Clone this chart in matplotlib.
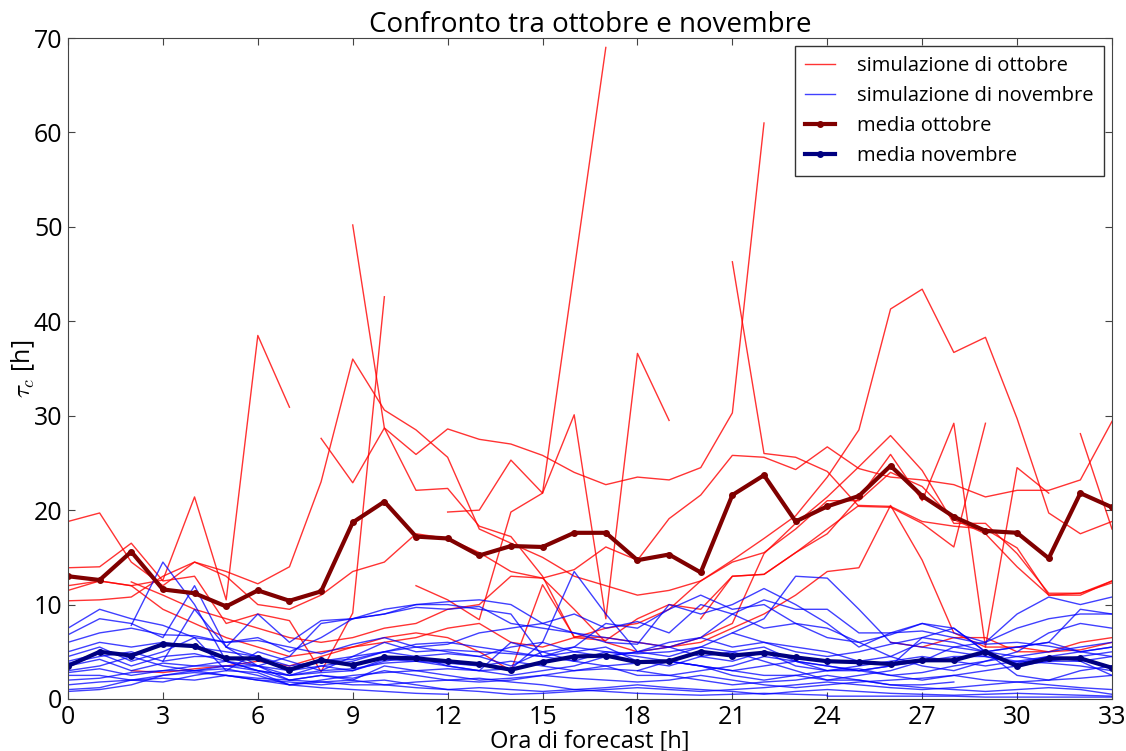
import numpy as np
import matplotlib
matplotlib.use("Agg")
import matplotlib.pyplot as plt

N = np.nan
hours = list(range(34))
xticks = list(range(0, 34, 3))

mean_oct = [13.0, 12.6, 15.6, 11.6, 11.2, 9.8, 11.5, 10.4, 11.4, 18.7, 20.9, 17.2, 17.0, 15.2,
            16.2, 16.1, 17.6, 17.6, 14.7, 15.3, 13.4, 21.6, 23.7, 18.8, 20.4, 21.5, 24.7, 21.5,
            19.3, 17.8, 17.6, 14.9, 21.8, 20.3]
mean_nov = [3.5, 5.0, 4.6, 5.8, 5.6, 4.3, 4.3, 3.1, 4.1, 3.6, 4.4, 4.3, 4.0, 3.7, 3.1, 3.9, 4.5,
            4.6, 3.9, 4.0, 5.0, 4.6, 4.9, 4.4, 4.0, 3.9, 3.7, 4.1, 4.1, 5.0, 3.5, 4.3, 4.3, 3.3]

oct_r1 = [11.5, 12.5, 12.0, 12.6, 21.4, 10.5, 38.5, 30.9] + [N] * 26
oct_r2 = [N] * 9 + [50.2, 28.7, 25.9, 28.6, 27.5, 27.0, 25.8, 24.0, 22.7, 23.5, 23.2, 24.5, 30.3, 61.0] + [N] * 11
oct_r3 = [13.9, 14.0, 16.5, 12.5, 13.0, 8.0, 9.0, 8.3, 2.9, 9.1, 42.6] + [N] * 23
oct_r4 = [N] * 8 + [27.6, 22.9, 28.7, 22.1, 22.3, 18.3, 17.2, 13.0, 6.5, 6.2, 8.5, 10.0, 9.5, 13.0,
                    13.2, 15.5, 18.0, 20.5, 20.4, 18.8, 18.3, 18.0, 16.0, 11.0, 11.2, 12.5]
oct_r5 = [10.4, 10.5, 10.8, 13.0, 14.5, 13.5, 12.2, 14.0, 23.0, 36.0, 30.6, 28.5, 25.6, 18.0, 16.5,
          15.0, 13.0, 12.0, 11.0, 11.5, 12.5, 14.5, 15.5, 18.0, 21.0, 21.0, 24.0, 22.5, 19.0, 17.5,
          14.0, 11.0, 11.0, 12.5]
oct_r6 = [N] * 12 + [19.8, 20.0, 25.3, 21.8, 30.1, 8.5, 36.6, 29.5] + [N] * 14
oct_r7 = [N] * 11 + [12.0, 10.5, 8.4, 19.8, 21.8, 45.4, 69.0] + [N] * 16
oct_r8 = [N] * 21 + [46.3, 26.0, 25.6, 24.1, 20.4, 20.3, 18.6, 16.1, 29.2] + [N] * 4
oct_r9 = [18.8, 19.7, 14.5, 12.0, 14.5, 13.0, 10.0, 9.5, 11.0, 13.5, 14.5, 17.5, 17.0, 15.5, 13.5,
          12.8, 13.7, 16.1, 14.7, 19.1, 21.6, 25.8, 25.6, 24.3, 26.7, 24.4, 23.5, 23.2, 22.7, 21.4,
          22.1, 22.1, 23.2, 29.4]
oct_r10 = [12.0, 12.5, 12.0, 9.5, 8.0, 6.5, 5.5, 4.5, 5.0, 5.5, 6.0, 6.5, 7.5, 8.0, 6.0, 5.5, 6.5,
           7.5, 8.0, 9.5, 12.5, 14.7, 17.0, 19.4, 23.5, 28.5, 41.3, 43.4, 36.7, 38.3, 29.7, 19.7,
           17.5, 18.8]
oct_r11 = [N] * 2 + [12.4, 11.0, 9.5, 8.5, 7.5, 6.5, 6.0, 6.5, 7.5, 8.0, 9.5, 10.0, 13.0, 12.8,
                     9.5, 6.0, 5.0, 5.5, 6.5, 8.0, 15.4, 18.6, 21.4, 24.6, 27.9, 24.2, 18.6, 18.6,
                     15.4, 11.2, 11.2, 12.3]
oct_r12 = [N] * 2 + [3.0, 2.8, 3.2, 3.5, 4.0, 3.5, 4.5, 5.5, 6.5, 7.0, 6.5, 5.0, 3.0, 12.1, 6.6,
                     6.5, 6.0, 5.5, 6.0, 7.5, 9.0, 11.0, 13.5, 13.9, 20.5, 14.7, 7.0, 5.5, 5.5,
                     5.0, 5.2, 6.0]
oct_r13 = [N] * 20 + [8.5, 13.0, 13.2, 15.5, 17.5, 21.3, 25.9, 21.0, 29.2, 5.5, 24.5, 21.8] + [N] * 2
oct_r14 = [N] * 26 + [6.0, 5.5, 6.5, 6.5, 5.0, 5.0, 6.0, 6.5]
oct_r15 = [N] * 31 + [N, 28.1, 18.0]

nov_b1 = [7.5, 9.5, 8.5, 7.8, 6.5, 6.0, 6.5, 5.0, 6.5, 8.5, 9.5, 10.0, 10.3, 10.5, 10.0, 8.0, 7.0,
          6.5, 6.0, 5.5, 6.5, 9.0, 10.5, 9.5, 9.5, 7.0, 7.0, 7.2, 6.5, 5.8, 6.0, 5.6, 5.0, 4.5]
nov_b2 = [N, N, 7.8, 14.5, 10.0, 4.0, 3.5, 2.5, 3.0, 3.2, 3.8, 4.0, 3.5, 3.0, 3.2, 6.0, 13.5, 9.0,
          5.0, 4.5, 5.5, 7.0, 8.5, 13.0, 12.8, 9.5, 6.0, 5.5, 5.0, 4.5, 4.0, 3.8, 3.5, 3.0]
nov_b3 = [6.8, 8.5, 8.0, 6.5, 12.0, 5.5, 9.0, 6.0, 8.3, 8.5, 9.0, 9.7, 9.5, 9.8, 8.0, 7.5, 7.0, 6.0,
          5.8, 10.0, 9.0, 10.0, 11.7, 10.0, 8.0, 5.5, 7.0, 8.0, 7.0, 6.0, 9.0, 10.8, 10.0, 10.8]
nov_b4 = [6.0, 7.0, 7.5, 6.8, 6.7, 6.0, 6.2, 5.5, 4.8, 5.8, 6.5, 5.5, 5.8, 7.0, 7.5, 8.0, 9.0, 7.5,
          8.2, 7.0, 10.0, 9.0, 7.5, 8.0, 6.5, 6.0, 6.8, 8.0, 7.5, 5.0, 5.5, 6.0, 9.5, 9.0]
nov_b5 = [5.0, 6.0, 5.5, 6.0, 5.5, 5.0, 4.5, 3.5, 4.0, 4.2, 5.0, 5.5, 5.0, 4.5, 5.5, 6.0, 5.0, 4.5,
          5.0, 6.0, 6.5, 5.5, 6.0, 5.0, 4.5, 5.0, 5.8, 6.5, 6.0, 5.0, 5.5, 6.0, 5.0, 5.5]
nov_b6 = [4.5, 5.5, 4.0, 5.0, 6.5, 3.0, 5.0, 4.0, 3.0, 4.5, 6.0, 5.0, 5.2, 5.0, 4.8, 4.5, 5.0, 5.5,
          4.0, 3.5, 4.5, 4.0, 5.0, 3.5, 3.0, 3.2, 2.5, 2.8, 3.5, 4.0, 4.5, 5.0, 5.5, 6.0]
nov_b7 = [4.0, 4.8, 3.5, 4.5, 4.8, 4.0, 3.0, 2.5, 2.8, 3.0, 4.2, 4.0, 3.8, 3.5, 4.0, 3.5, 3.0, 3.5,
          3.8, 4.0, 3.5, 2.5, 2.0, 2.5, 3.0, 3.5, 4.0, 4.5, 4.0, 3.5, 4.0, 4.5, 5.0, 5.5]
nov_b8 = [3.5, 4.2, 3.0, 3.8, 3.5, 3.5, 3.5, 2.0, 2.5, 2.2, 3.0, 2.5, 2.0, 1.8, 2.0, 2.5, 2.2, 2.0,
          1.8, 2.0, 2.5, 2.0, 1.5, 1.2, 1.5, 1.8, 2.0, 2.2, 2.5, 2.0, 1.8, 1.5, 1.2, 1.0]
nov_b9 = [2.8, 3.2, 2.5, 3.0, 3.0, 3.2, 2.5, 1.5, 2.0, 2.5, 2.8, 3.0, 2.5, 2.0, 2.2, 2.5, 3.0, 3.2,
          3.0, 2.5, 2.0, 1.5, 1.8, 2.0, 2.5, 2.0, 1.5, 1.2, 1.0, 0.8, 1.0, 1.2, 1.0, 0.5]
nov_b10 = [2.5, 2.5, 2.0, 2.5, 2.8, 2.5, 2.0, 1.8, 1.5, 1.8, 2.0, 1.5, 1.0, 1.2, 1.0, 0.8, 1.0, 1.2,
           1.5, 1.2, 1.0, 0.8, 0.5, 0.8, 1.0, 0.8, 0.6, 0.5, 0.4, 0.5, 0.6, 0.5, 0.4, 0.3]
nov_b11 = [2.0, 2.2, 2.8, 3.0, 3.5, 4.0, 3.0, 2.5, 3.5, 4.0, 5.0, 5.8, 6.0, 5.5, 5.0, 4.5, 4.0, 5.0,
           4.5, 4.0, 3.5, 3.0, 3.5, 4.0, 3.5, 3.0, 3.5, 4.0, 5.5, 6.0, 7.5, 8.5, 9.0, 9.0]
nov_b12 = [1.5, 1.8, 2.0, 2.2, 2.0, 2.5, 2.2, 2.0, 1.8, 1.5, 1.5, 1.2, 1.0, 0.8, 0.5, 0.6, 0.8, 1.0,
           1.2, 1.0, 0.8, 1.0, 1.2, 1.5, 1.8, 1.5, 1.2, 1.0, 1.2, 1.5, 1.8, 2.0, 2.2, 2.5]
nov_b13 = [1.0, 1.2, 2.0, 1.8, 2.5, 3.0, 2.8, 1.5, 1.8, 2.0, 1.5, 1.8, 2.0, 2.2, 1.8, 1.5, 1.0, 0.8,
           0.6, 0.5, 0.4, 0.5, 0.6, 0.5, 0.4, N, N, N, N, N, N, N, N, N]
nov_b14 = [0.8, 1.0, 1.5, 2.5, 3.0, 2.5, 2.0, 1.5, 1.2, 1.0, 0.8, 0.6, 0.5, N, N, N, N, N, N, N,
           N, N, N, N, N, N, N, N, N, N, N, N, N, N]
nov_b15 = [N, N, N, 4.0, 9.5, 5.5, 3.5, 4.5, 8.0, 8.5, 9.0, 10.0, 10.0, 9.5, 9.0, 4.5, 5.5, 8.0,
           7.5, 9.5, 11.0, 9.5, 10.0, 8.0, 7.5, 6.0, 4.5, 3.5, 3.0, 4.0, 5.0, 7.0, 8.0, 7.5]
nov_b16 = [3.0, 3.5, 4.5, 3.5, 3.0, 3.5, 3.0, 2.0, 2.5, 2.0, 3.5, 3.0, 3.2, 3.0, 2.5, 3.0, 3.5, 4.5,
           5.0, 5.5, 4.5, 5.0, 5.5, 4.0, 3.0, 3.0, 3.5, 6.5, 7.5, 5.0, 2.5, 2.0, 3.0, 3.5]
nov_b17 = [3.8, 4.5, 5.0, 4.0, 4.5, 4.5, 3.5, 3.0, 3.5, 3.0, 4.0, 4.5, 4.8, 4.5, 3.5, 5.0, 5.5, 5.0,
           4.8, 5.0, 5.5, 5.0, 4.0, 3.0, 2.0, 2.5, 3.0, 4.0, 4.5, 4.5, 3.8, 4.5, 4.0, 2.5]
nov_b18 = [N, N, N, N, N, N, N, N, N, N, N, N, N, N, N, N, N, N, 3.0, 4.0, 3.5, 3.0, 2.5, 2.5, 2.0,
           2.0, 1.5, 1.5, 1.8, N, N, N, N, N]
nov_b19 = [N] * 21 + [7.0, 6.0, 5.5, 5.0, 4.0, 4.5, 6.0, 5.5, 5.0, 4.5, 4.0, 4.5, 5.0]
nov_b20 = [N] * 24 + [0.3, 0.3, 0.3, 0.3, 0.3, 0.2, 0.2, 0.2, 0.2, 0.2]
nov_b21 = [N] * 5 + [5.5, 4.5, 3.0, 4.0, 4.5, 5.0, 4.5, 3.5, 3.0, 6.0, 5.0, 4.0, 3.5, 2.5, 2.5,
                     3.0, 3.5, 4.5, 4.0, 3.5, 3.0, 2.5, 2.0, 2.5, 3.0, 3.5, 4.0, 4.0, 4.5]

oct_sims = [oct_r1, oct_r2, oct_r3, oct_r4, oct_r5, oct_r6, oct_r7, oct_r8, oct_r9, oct_r10,
            oct_r11, oct_r12, oct_r13, oct_r14, oct_r15]
nov_sims = [nov_b1, nov_b2, nov_b3, nov_b4, nov_b5, nov_b6, nov_b7, nov_b8, nov_b9, nov_b10,
            nov_b11, nov_b12, nov_b13, nov_b14, nov_b15, nov_b16, nov_b17, nov_b18, nov_b19,
            nov_b20, nov_b21]

plt.rcParams['font.family'] = ['Open Sans', 'DejaVu Sans']
plt.rcParams['mathtext.fontset'] = 'cm'

fig = plt.figure(figsize=(11.26, 7.51), dpi=100)
ax = fig.add_axes([68 / 1126, 1 - 699 / 751, (1112 - 68) / 1126, (699 - 38) / 751])

for i, s in enumerate(oct_sims):
    ax.plot(hours, s, color='#ff0000', lw=1.0, alpha=0.8,
            label='simulazione di ottobre' if i == 0 else None)
for i, s in enumerate(nov_sims):
    ax.plot(hours, s, color='#0000ff', lw=1.0, alpha=0.75,
            label='simulazione di novembre' if i == 0 else None)
ax.plot(hours, mean_oct, color='#800000', lw=3, marker='o', ms=4, label='media ottobre')
ax.plot(hours, mean_nov, color='#000080', lw=3, marker='o', ms=4, label='media novembre')

ax.set_xlim(0, 33)
ax.set_ylim(0, 70)
ax.set_xticks(xticks)
ax.tick_params(direction='in', top=True, right=True, labelsize=18, length=5, colors='#444444',
               labelcolor='black', pad=4)
for sp in ax.spines.values():
    sp.set_color('#444444')
ax.set_title('Confronto tra ottobre e novembre', fontsize=20, pad=4)
ax.set_xlabel('Ora di forecast [h]', fontsize=17, labelpad=0.5)
ax.set_ylabel(r'$\tau_c$ [h]', fontsize=18, labelpad=-2)

leg = ax.legend(loc='upper right', fontsize=14.5, frameon=True, fancybox=False,
                borderaxespad=0.4, handlelength=1.5, handletextpad=1.1,
                labelspacing=0.5, borderpad=0.5)
leg.get_frame().set_edgecolor('black')
leg.get_frame().set_linewidth(1.0)

fig.savefig('out.png', dpi=100)
